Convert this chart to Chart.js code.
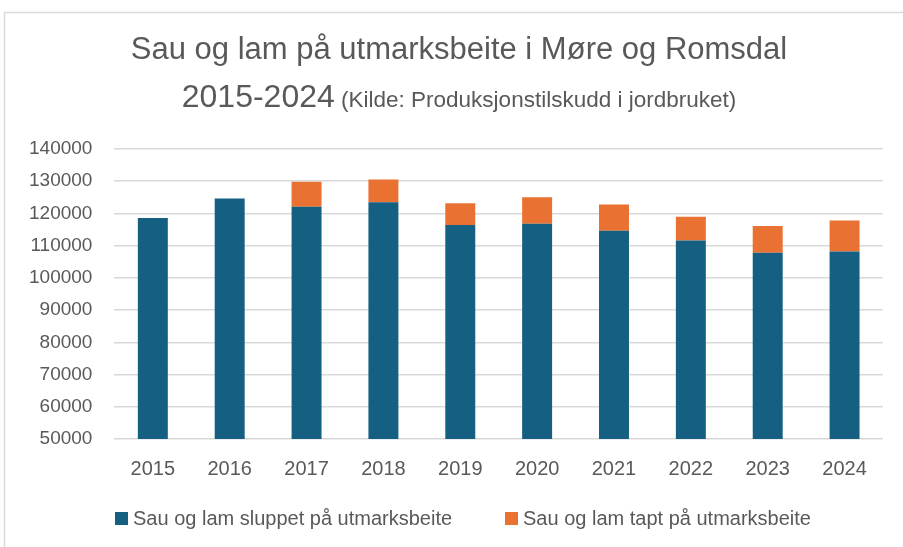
<!DOCTYPE html>
<html>
<head>
<meta charset="utf-8">
<script src="https://cdn.jsdelivr.net/npm/chart.js@4"></script>
<style>
  html, body { margin: 0; padding: 0; background: #fff; }
  #wrap { position: relative; width: 903px; height: 547px; }
</style>
</head>
<body>
<div id="wrap"><canvas id="sauChart" width="903" height="547"></canvas></div>
<script>
// Data lest av figuren
const years = ['2015', '2016', '2017', '2018', '2019', '2020', '2021', '2022', '2023', '2024'];
const sluppet = [118600, 124600, 122100, 123500, 116400, 116800, 114600, 111600, 107800, 108200];
const tapt = [0, 0, 7700, 7000, 6800, 8200, 8200, 7400, 8300, 9600];
const seriesNames = ['Sau og lam sluppet på utmarksbeite', 'Sau og lam tapt på utmarksbeite'];
const titleLine1 = 'Sau og lam på utmarksbeite i Møre og Romsdal';
const titleLine2a = '2015-2024';
const titleLine2b = ' (Kilde: Produksjonstilskudd i jordbruket)';

const fontFam = "'Liberation Sans', Arial, sans-serif";
const grey = '#595959';

// ramme, tittel og forklaring
const framePlugin = {
    id: 'frame',
    beforeDraw(chart) {
        const c = chart.ctx;
        c.save();
        c.fillStyle = '#fff';
        c.fillRect(0, 0, chart.width, chart.height);
        c.strokeStyle = '#d9d9d9';
        c.lineWidth = 1.5;
        c.beginPath();
        c.moveTo(4.5, chart.height);
        c.lineTo(4.5, 12.5);
        c.lineTo(chart.width, 12.5);
        c.stroke();

        c.fillStyle = grey;
        c.textBaseline = 'alphabetic';
        c.textAlign = 'center';
        c.font = '31px ' + fontFam;
        c.fillText(titleLine1, 459, 59);

        c.textAlign = 'left';
        c.font = '32px ' + fontFam;
        const w1 = c.measureText(titleLine2a).width;
        c.font = '22.5px ' + fontFam;
        const w2 = c.measureText(titleLine2b).width;
        const x0 = 459 - (w1 + w2) / 2;
        c.font = '32px ' + fontFam;
        c.fillText(titleLine2a, x0, 107);
        c.font = '22.5px ' + fontFam;
        c.fillText(titleLine2b, x0 + w1, 107);

        // forklaring
        const legendX = [115, 505];
        c.font = '20px ' + fontFam;
        c.textBaseline = 'middle';
        chart.data.datasets.forEach(function(ds, i) {
            c.fillStyle = ds.backgroundColor;
            c.fillRect(legendX[i], 512, 13, 13);
            c.fillStyle = grey;
            c.fillText(ds.label, legendX[i] + 18, 519);
        });
        c.restore();
    }
};

const ctx = document.getElementById('sauChart').getContext('2d');
const sauChart = new Chart(ctx, {
    type: 'bar',
    data: {
        labels: years,
        datasets: [{
            label: seriesNames[0],
            data: sluppet,
            backgroundColor: '#156082',
            barPercentage: 0.39,
            categoryPercentage: 1
        }, {
            label: seriesNames[1],
            data: tapt,
            backgroundColor: '#E97132',
            barPercentage: 0.39,
            categoryPercentage: 1
        }]
    },
    options: {
        responsive: false,
        animation: false,
        layout: {
            padding: { top: 149, left: 7, right: 20, bottom: 56 }
        },
        plugins: {
            legend: { display: false },
            tooltip: { enabled: false }
        },
        scales: {
            x: {
                stacked: true,
                grid: { display: false },
                border: { display: false },
                ticks: {
                    color: grey,
                    font: { family: fontFam, size: 20 },
                    padding: 10
                }
            },
            y: {
                stacked: true,
                min: 50000,
                max: 140000,
                grid: { color: '#d9d9d9', lineWidth: 1.5, drawTicks: false },
                border: { display: false },
                ticks: {
                    stepSize: 10000,
                    color: grey,
                    font: { family: fontFam, size: 19 },
                    padding: 22,
                    callback: function(value) {
                        return String(value);
                    }
                }
            }
        }
    },
    plugins: [framePlugin]
});
</script>
</body>
</html>
